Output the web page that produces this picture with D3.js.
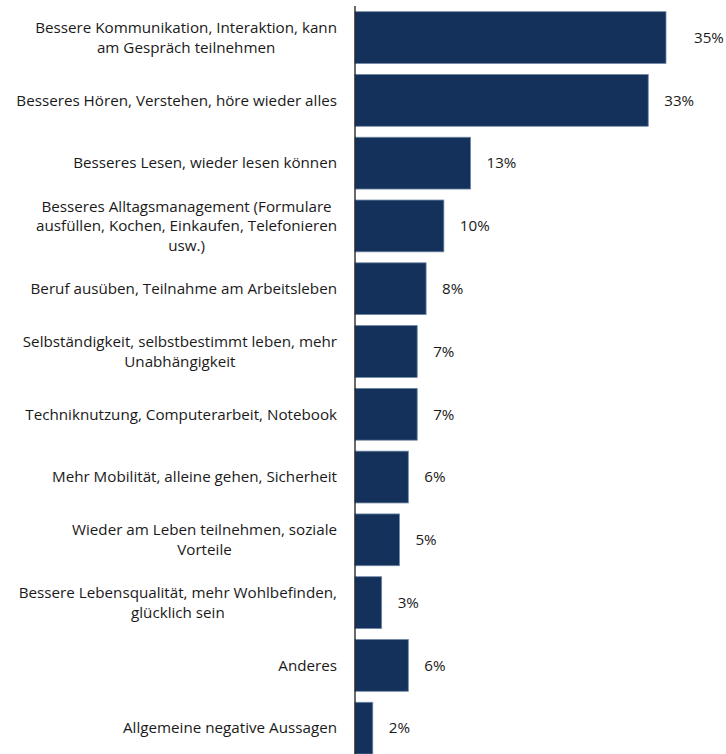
<!DOCTYPE html>
<html>
<head>
<meta charset="utf-8">
<script src="https://cdn.jsdelivr.net/npm/d3@7"></script>
<style>
  html, body { margin: 0; padding: 0; background: #ffffff; }
  svg { display: block; }
  text { font-family: "Open Sans", "Noto Sans", sans-serif; fill: #1a1a1a; }
</style>
</head>
<body>
<svg id="chart" width="726" height="754"></svg>
<script>
// Category labels (each entry is the wrapped lines of one label)
const categories = [
  ["Bessere Kommunikation, Interaktion, kann", "am Gespräch teilnehmen"],
  ["Besseres Hören, Verstehen, höre wieder alles"],
  ["Besseres Lesen, wieder lesen können"],
  ["Besseres Alltagsmanagement (Formulare", "ausfüllen, Kochen, Einkaufen, Telefonieren", "usw.)"],
  ["Beruf ausüben, Teilnahme am Arbeitsleben"],
  ["Selbständigkeit, selbstbestimmt leben, mehr", "Unabhängigkeit"],
  ["Techniknutzung, Computerarbeit, Notebook"],
  ["Mehr Mobilität, alleine gehen, Sicherheit"],
  ["Wieder am Leben teilnehmen, soziale", "Vorteile"],
  ["Bessere Lebensqualität, mehr Wohlbefinden,", "glücklich sein"],
  ["Anderes"],
  ["Allgemeine negative Aussagen"]
];
// Share of mentions in percent
const values = [35, 33, 13, 10, 8, 7, 7, 6, 5, 3, 6, 2];
const valueLabels = ["35%", "33%", "13%", "10%", "8%", "7%", "7%", "6%", "5%", "3%", "6%", "2%"];

const svg = d3.select("#chart");
const ids = d3.range(categories.length);

const step = 62.78;
const y = d3.scaleBand()
  .domain(ids)
  .range([6.2, 6.2 + step * ids.length])
  .paddingInner(0.175)
  .paddingOuter(0.0875);

const x = d3.scaleLinear().domain([0, 35]).range([355, 666]);

// Bars
svg.append("g").selectAll("rect")
  .data(ids)
  .join("rect")
  .attr("x", x(0))
  .attr("y", i => y(i))
  .attr("width", i => x(values[i]) - x(0))
  .attr("height", y.bandwidth())
  .attr("fill", "#13315a")
  .attr("stroke", "#6f87a3")
  .attr("stroke-width", 0.8);

// Category axis line
svg.append("line")
  .attr("x1", x(0)).attr("x2", x(0))
  .attr("y1", 6).attr("y2", 754)
  .attr("stroke", "#1a1a1a")
  .attr("stroke-width", 1.3);

// Category labels: lines centred within a block right-aligned to the axis
const labelRight = 337;
const fontSize = 15.2;
const lineH = 19.5;
const labels = svg.append("g").attr("font-size", fontSize);
ids.forEach(i => {
  const lines = categories[i];
  const g = labels.append("g");
  const texts = lines.map((ln, k) => g.append("text")
    .attr("text-anchor", "middle")
    .attr("y", y(i) + y.bandwidth() / 2 + (k - (lines.length - 1) / 2) * lineH)
    .attr("dy", "0.35em")
    .text(ln));
  const maxW = d3.max(texts, t => t.node().getComputedTextLength());
  texts.forEach(t => t.attr("x", labelRight - maxW / 2));
});

// Value labels
svg.append("g").attr("font-size", fontSize).selectAll("text")
  .data(ids)
  .join("text")
  .attr("x", i => x(values[i]) + (i === 0 ? 28 : 16))
  .attr("y", i => y(i) + y.bandwidth() / 2)
  .attr("dy", "0.35em")
  .text(i => valueLabels[i]);
</script>
</body>
</html>
